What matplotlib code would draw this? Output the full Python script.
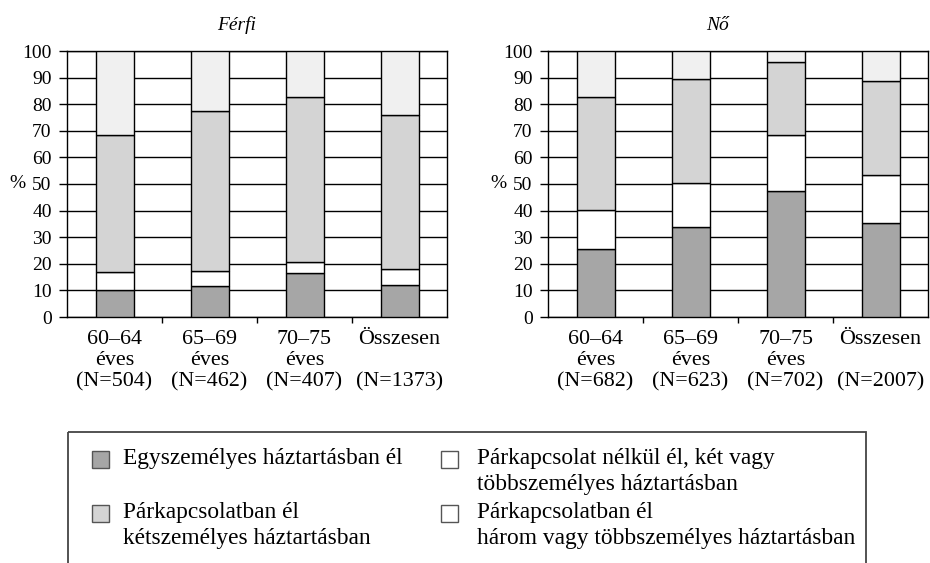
import matplotlib
matplotlib.use('Agg')
import matplotlib.pyplot as plt
from matplotlib.patches import Rectangle
import numpy as np

plt.rcParams['font.family'] = ['Liberation Serif', 'DejaVu Serif']

# data (percent)
ferfi_labels = ['60–64\néves\n(N=504)', '65–69\néves\n(N=462)', '70–75\néves\n(N=407)', 'Összesen\n\n(N=1373)']
ferfi_egy = [10.0, 11.6, 16.4, 12.0]
ferfi_nelkul = [7.0, 5.8, 4.1, 5.9]
ferfi_ket = [51.6, 60.2, 62.1, 57.9]
ferfi_harom = [31.4, 22.4, 17.4, 24.2]

no_labels = ['60–64\néves\n(N=682)', '65–69\néves\n(N=623)', '70–75\néves\n(N=702)', 'Összesen\n\n(N=2007)']
no_egy = [25.6, 33.8, 47.4, 35.5]
no_nelkul = [14.7, 16.5, 21.1, 17.9]
no_ket = [42.5, 39.1, 27.2, 35.4]
no_harom = [17.2, 10.6, 4.3, 11.2]

legend_labels = ['Egyszemélyes háztartásban él',
                 'Párkapcsolatban él\nkétszemélyes háztartásban',
                 'Párkapcsolat nélkül él, két vagy\ntöbbszemélyes háztartásban',
                 'Párkapcsolatban él\nhárom vagy többszemélyes háztartásban']

c_egy = '#a6a6a6'
c_ket = '#d4d4d4'
c_nelkul = '#ffffff'
c_harom = '#f0f0f0'

fig = plt.figure(figsize=(9.3, 5.63), dpi=100)
W, H = 930.0, 563.0


def draw_panel(ax, labels, egy, nelkul, ket, harom, title, title_x):
    x = np.arange(len(labels))
    egy = np.array(egy)
    nelkul = np.array(nelkul)
    ket = np.array(ket)
    harom = np.array(harom)
    kw = dict(width=0.4, edgecolor='black', linewidth=1.0, zorder=3)
    ax.bar(x, egy, color=c_egy, **kw)
    ax.bar(x, nelkul, bottom=egy, color=c_nelkul, **kw)
    ax.bar(x, ket, bottom=egy + nelkul, color=c_ket, **kw)
    ax.bar(x, harom, bottom=egy + nelkul + ket, color=c_harom, **kw)

    ax.set_xlim(-0.5, 3.5)
    ax.set_ylim(0, 100)
    ax.set_yticks(np.arange(0, 101, 10))
    ax.yaxis.grid(True, color='black', linewidth=1.0, zorder=1)
    ax.set_axisbelow(True)
    ax.set_xticks(x)
    ax.set_xticklabels(labels, fontsize=15.8, linespacing=1.18)
    ax.set_xticks([0.5, 1.5, 2.5], minor=True)
    ax.tick_params(axis='x', which='major', length=0, pad=9)
    ax.tick_params(axis='x', which='minor', length=4, width=1, direction='out')
    ax.tick_params(axis='y', length=6, width=1, pad=5, labelsize=14)
    for s in ax.spines.values():
        s.set_linewidth(1.0)
        s.set_color('black')
    ax.text(-0.13, 0.5, '%', transform=ax.transAxes, fontsize=14, ha='center', va='center')
    ax.text(title_x, 1.065, title, transform=ax.transAxes, fontsize=14, style='italic',
            ha='center', va='bottom')


ax1 = fig.add_axes([67 / W, 1 - 317 / H, 380 / W, 266 / H])
draw_panel(ax1, ferfi_labels, ferfi_egy, ferfi_nelkul, ferfi_ket, ferfi_harom, 'Férfi', 0.447)

ax2 = fig.add_axes([548 / W, 1 - 317 / H, 380 / W, 266 / H])
draw_panel(ax2, no_labels, no_egy, no_nelkul, no_ket, no_harom, 'Nő', 0.446)

# legend box drawn by hand in pixel coordinates
lg = fig.add_axes([0, 0, 1, 1])
lg.set_xlim(0, W)
lg.set_ylim(H, 0)
lg.axis('off')
lg.add_patch(Rectangle((68, 432), 798, 140, facecolor='none', edgecolor='#444444',
                       linewidth=1.3, clip_on=False))

leg_colors = [c_egy, c_ket, c_nelkul, c_nelkul]
leg_pos = [(92, 451), (92, 505), (441, 451), (441, 505)]
for (px, py), col, lab in zip(leg_pos, leg_colors, legend_labels):
    lg.add_patch(Rectangle((px, py), 17, 17, facecolor=col, edgecolor='#555555', linewidth=1.0))
    lg.text(px + 31 if px < 200 else px + 36, py - 3, lab, fontsize=16.8, ha='left', va='top',
            linespacing=1.3)

fig.savefig('out.png', dpi=100, facecolor='white')
